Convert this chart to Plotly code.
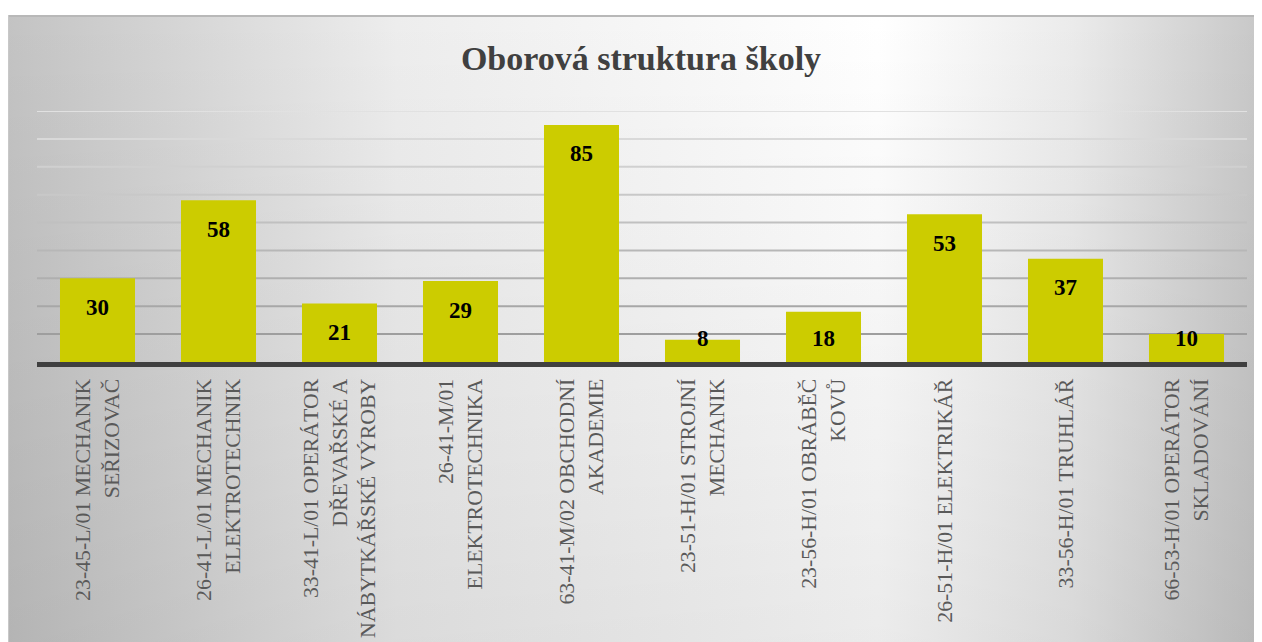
import base64
import plotly.graph_objects as go

# ---- data ----
categories = [
    "23-45-L/01 MECHANIK<br>SEŘIZOVAČ",
    "26-41-L/01 MECHANIK<br>ELEKTROTECHNIK",
    "33-41-L/01 OPERÁTOR<br>DŘEVAŘSKÉ A<br>NÁBYTKÁŘSKÉ VÝROBY",
    "26-41-M/01<br>ELEKTROTECHNIKA",
    "63-41-M/02 OBCHODNÍ<br>AKADEMIE",
    "23-51-H/01 STROJNÍ<br>MECHANIK",
    "23-56-H/01 OBRÁBĚČ<br>KOVŮ",
    "26-51-H/01 ELEKTRIKÁŘ",
    "33-56-H/01 TRUHLÁŘ",
    "66-53-H/01 OPERÁTOR<br>SKLADOVÁNÍ",
]
values = [30, 58, 21, 29, 85, 8, 18, 53, 37, 10]
grid_values = [10, 20, 30, 40, 50, 60, 70, 80, 90]
title_text = "Oborová struktura školy"

OFF = 8  # page body margin
W, H = 1262 - OFF, 642 - OFF
ML, MR, MT = 37 - OFF, 15, 111 - OFF
MB = H - (362 - OFF)
PW = W - ML - MR
PH = H - MT - MB
YMAX = 90

# background (radial-ish gradient) as svg image
svg = '''<svg xmlns="http://www.w3.org/2000/svg" width="1300" height="640" viewBox="0 0 1300 640" preserveAspectRatio="none">
<defs>
<linearGradient id="h" x1="0" y1="0" x2="1" y2="0">
<stop offset="0" stop-color="#c3c3c3"/>
<stop offset="0.30" stop-color="#ededed"/>
<stop offset="0.67" stop-color="#ffffff"/>
<stop offset="0.82" stop-color="#ebebeb"/>
<stop offset="0.97" stop-color="#c6c6c6"/>
<stop offset="1" stop-color="#c4c4c4"/>
</linearGradient>
<linearGradient id="v" x1="0" y1="0" x2="0" y2="1">
<stop offset="0" stop-color="#000" stop-opacity="0"/>
<stop offset="1" stop-color="#000" stop-opacity="0.08"/>
</linearGradient>
</defs>
<rect x="0" y="0" width="1300" height="640" fill="url(#h)"/>
<rect x="0" y="0" width="1300" height="640" fill="url(#v)"/>
<line x1="0" y1="1" x2="1300" y2="1" stroke="#b8b8b8" stroke-width="2"/>
<line x1="1" y1="0" x2="1" y2="640" stroke="#c8c8c8" stroke-width="2"/>
</svg>'''
src = "data:image/svg+xml;base64," + base64.b64encode(svg.encode("utf-8")).decode()

bx0, by0 = 7 - OFF, 15 - OFF
bx1, by1 = bx0 + 1300, by0 + 640

fig = go.Figure()
fig.add_trace(go.Bar(
    x=categories, y=values,
    marker=dict(color="#cccc00", line=dict(width=0)),
    hoverinfo="skip",
))

# value labels
for c, v in zip(categories, values):
    fig.add_annotation(
        x=c, y=max(v - 10.4, 8.6), text=f"<b>{v}</b>", showarrow=False,
        xref="x", yref="y", yanchor="middle",
        font=dict(family="Liberation Serif", size=23, color="#000000"),
    )

# gridlines fading toward the top
shapes = []
for g in grid_values:
    t = g / YMAX
    c = int(round(150 + t * 75))
    shapes.append(dict(type="line", xref="paper", yref="y", x0=0, x1=1, y0=g, y1=g,
                       line=dict(color=f"rgb({c},{c},{c})", width=2), layer="below"))

fig.update_layout(
    width=W, height=H,
    margin=dict(l=ML, r=MR, t=MT, b=MB, autoexpand=False),
    paper_bgcolor="#ffffff",
    plot_bgcolor="rgba(0,0,0,0)",
    bargap=0.38,
    showlegend=False,
    shapes=shapes,
    images=[dict(
        source=src, xref="paper", yref="paper",
        x=(bx0 - ML) / PW, y=1 + (MT - by0) / PH,
        sizex=(bx1 - bx0) / PW, sizey=(by1 - by0) / PH,
        sizing="stretch", xanchor="left", yanchor="top", layer="below",
    )],
    title=dict(
        text=f"<b>{title_text}</b>", x=(641 - OFF) / W, xref="container", xanchor="center",
        y=1 - (58 - OFF) / H, yref="container", yanchor="middle",
        font=dict(family="Liberation Serif", size=34, color="#404040"),
    ),
    xaxis=dict(
        showline=True, linecolor="#404040", linewidth=5,
        showgrid=False, ticks="", tickangle=-90, automargin=False,
        tickfont=dict(family="Liberation Serif", size=21.8, color="#595959"),
        ticklabelstandoff=3,
    ),
    yaxis=dict(
        range=[0, YMAX], showgrid=False, zeroline=False, automargin=False,
        showticklabels=False, ticks="", fixedrange=True,
    ),
)

fig.write_html("out.html")
